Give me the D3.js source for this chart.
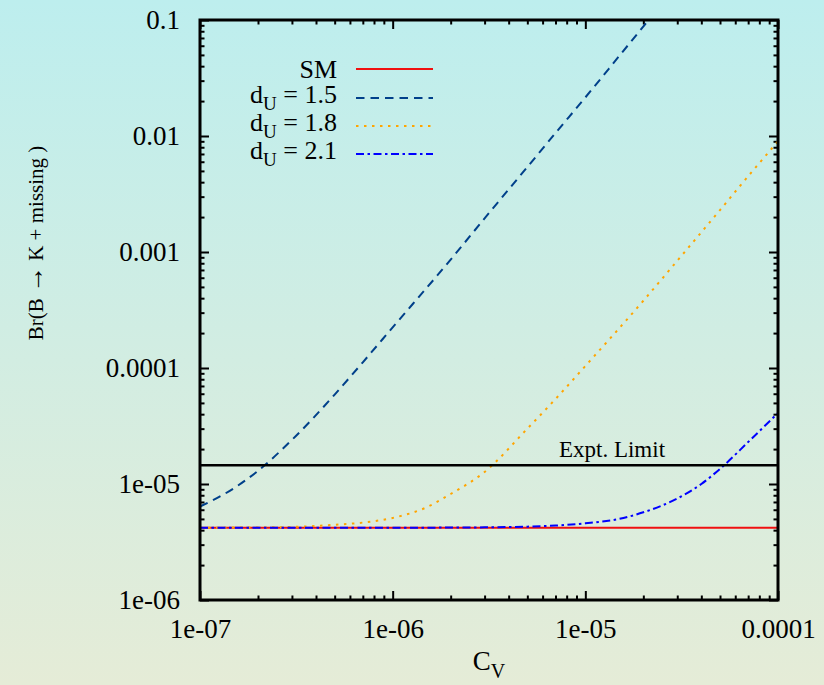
<!DOCTYPE html>
<html>
<head>
<meta charset="utf-8">
<script src="https://cdn.jsdelivr.net/npm/d3@7"></script>
<style>
  html, body { margin: 0; padding: 0; }
  svg { display: block; }
  svg text { font-family: "Liberation Serif", "Times New Roman", Times, "DejaVu Serif", serif !important; fill: #000; }
</style>
</head>
<body>
<svg id="chart" width="824" height="685"></svg>
<script>
// ---------- data ----------
const xDomain = [1e-7, 1e-4];
const yDomain = [1e-6, 0.1];

const xTickValues = [1e-7, 1e-6, 1e-5, 1e-4];
const xTickLabels = ["1e-07", "1e-06", "1e-05", "0.0001"];
const yTickValues = [1e-6, 1e-5, 1e-4, 1e-3, 1e-2, 1e-1];
const yTickLabels = ["1e-06", "1e-05", "0.0001", "0.001", "0.01", "0.1"];

// SM
const cvSM = [1e-7, 1e-4];
const brSM = [4.2e-6, 4.2e-6];

// d_U = 1.5
const cv15 = [1e-7, 1.5e-7, 2e-7, 3e-7, 5e-7, 7e-7, 1e-6, 2e-6, 3e-6, 5e-6, 7e-6, 1e-5, 1.5e-5, 2.3e-5];
const br15 = [6.4e-6, 9.2e-6, 1.30e-5, 2.4e-5, 5.9e-5, 1.12e-4, 2.24e-4, 8.6e-4, 1.95e-3, 5.4e-3, 1.06e-2, 2.15e-2, 4.9e-2, 0.117];

// d_U = 1.8
const cv18 = [1e-7, 2e-7, 3e-7, 5e-7, 7e-7, 1e-6, 1.5e-6, 2e-6, 3e-6, 5e-6, 7e-6, 1e-5, 2e-5, 3e-5, 5e-5, 7e-5, 1e-4];
const br18 = [4.2e-6, 4.22e-6, 4.26e-6, 4.45e-6, 4.65e-6, 5.1e-6, 6.3e-6, 8.2e-6, 1.27e-5, 3.0e-5, 5.4e-5, 1.04e-4, 3.8e-4, 8.4e-4, 2.3e-3, 4.5e-3, 9.0e-3];

// d_U = 2.1
const cv21 = [1e-7, 1e-6, 3e-6, 5e-6, 7e-6, 1e-5, 1.5e-5, 2e-5, 3e-5, 4e-5, 5e-5, 7e-5, 1e-4];
const br21 = [4.2e-6, 4.2e-6, 4.23e-6, 4.29e-6, 4.38e-6, 4.58e-6, 5.0e-6, 5.7e-6, 7.5e-6, 1.0e-5, 1.35e-5, 2.3e-5, 4.1e-5];

// Experimental limit
const exptLimit = 1.45e-5;
const exptLabel = "Expt. Limit";

// ---------- layout ----------
const W = 824, H = 685;
const m = { left: 200, top: 20, right: 778, bottom: 600 };
const FONT = '"Liberation Serif", "Times New Roman", Times, "DejaVu Serif", serif';

const svg = d3.select("#chart");

// background gradient
const defs = svg.append("defs");
const grad = defs.append("linearGradient").attr("id", "bg")
  .attr("x1", 0).attr("y1", 0).attr("x2", 0).attr("y2", 1);
grad.append("stop").attr("offset", "0%").attr("stop-color", "#bdeeee");
grad.append("stop").attr("offset", "100%").attr("stop-color", "#e5ecd7");
svg.append("rect").attr("width", W).attr("height", H).attr("fill", "url(#bg)");

defs.append("clipPath").attr("id", "plotclip").append("rect")
  .attr("x", m.left).attr("y", m.top)
  .attr("width", m.right - m.left).attr("height", m.bottom - m.top);

const x = d3.scaleLog().domain(xDomain).range([m.left, m.right]);
const y = d3.scaleLog().domain(yDomain).range([m.bottom, m.top]);

const xMinor = x.ticks().filter(v => !xTickValues.some(t => Math.abs(t - v) / t < 1e-9));
const yMinor = y.ticks().filter(v => !yTickValues.some(t => Math.abs(t - v) / t < 1e-9));

function styleAxis(g) {
  g.attr("font-family", FONT).attr("font-size", 27);
  g.select(".domain").remove();
  g.selectAll(".tick line").attr("stroke", "#000").attr("stroke-width", 2);
  g.selectAll(".tick text").style("font-family", FONT).attr("font-size", 27).attr("fill", "#000");
}

function addAxis(axisFn, pos, vals, fmt, size, pad) {
  const a = axisFn.tickValues(vals).tickSizeInner(size).tickSizeOuter(0);
  if (fmt) a.tickFormat(fmt); else a.tickFormat("");
  if (pad !== undefined) a.tickPadding(pad);
  svg.append("g").attr("transform", pos).call(a).call(styleAxis);
}

// bottom
addAxis(d3.axisBottom(x), `translate(0,${m.bottom})`, xTickValues, (d, i) => xTickLabels[i], -9, 19);
addAxis(d3.axisBottom(x), `translate(0,${m.bottom})`, xMinor, null, -4.5);
// top
addAxis(d3.axisTop(x), `translate(0,${m.top})`, xTickValues, null, -9);
addAxis(d3.axisTop(x), `translate(0,${m.top})`, xMinor, null, -4.5);
// left
addAxis(d3.axisLeft(y), `translate(${m.left},0)`, yTickValues, (d, i) => yTickLabels[i], -9, 20);
addAxis(d3.axisLeft(y), `translate(${m.left},0)`, yMinor, null, -4.5);
// right
addAxis(d3.axisRight(y), `translate(${m.right},0)`, yTickValues, null, -9);
addAxis(d3.axisRight(y), `translate(${m.right},0)`, yMinor, null, -4.5);

// ---------- curves ----------
const plot = svg.append("g").attr("clip-path", "url(#plotclip)");
const line = d3.line().x(d => x(d[0])).y(d => y(d[1])).curve(d3.curveMonotoneX);

const series = [
  { name: "SM",  cv: cvSM, br: brSM, color: "#f01010", dash: null },
  { name: "1.5", cv: cv15, br: br15, color: "#00408a", dash: "8.5,6" },
  { name: "1.8", cv: cv18, br: br18, color: "#ffa500", dash: "2.5,5.5" },
  { name: "2.1", cv: cv21, br: br21, color: "#0000ff", dash: "8,3.5,2.5,3.5" }
];

series.forEach(s => {
  plot.append("path")
    .datum(s.cv.map((c, i) => [c, s.br[i]]))
    .attr("d", line)
    .attr("fill", "none")
    .attr("stroke", s.color)
    .attr("stroke-width", 2)
    .attr("stroke-dasharray", s.dash);
});

// experimental limit
plot.append("line")
  .attr("x1", x(xDomain[0])).attr("x2", x(xDomain[1]))
  .attr("y1", y(exptLimit)).attr("y2", y(exptLimit))
  .attr("stroke", "#000").attr("stroke-width", 2.5);
svg.append("text")
  .attr("x", 612).attr("y", y(exptLimit) - 8)
  .attr("text-anchor", "middle")
  .attr("font-size", 23)
  .text(exptLabel);

// frame
svg.append("rect")
  .attr("x", m.left).attr("y", m.top)
  .attr("width", m.right - m.left).attr("height", m.bottom - m.top)
  .attr("fill", "none").attr("stroke", "#000").attr("stroke-width", 3);

// ---------- legend ----------
const legendRows = [69, 98, 126, 154];
series.forEach((s, i) => {
  const ly = legendRows[i];
  const t = svg.append("text").attr("x", 337).attr("text-anchor", "end").attr("font-size", 26);
  if (s.name === "SM") {
    t.attr("y", ly + 9).text("SM");
  } else {
    t.attr("y", ly + 5);
    t.append("tspan").text("d");
    t.append("tspan").attr("font-size", 19).attr("dy", 7).text("U");
    t.append("tspan").attr("dy", -7).text(" = " + s.name);
  }
  svg.append("line")
    .attr("x1", 356).attr("x2", 433).attr("y1", ly).attr("y2", ly)
    .attr("stroke", s.color).attr("stroke-width", 2)
    .attr("stroke-dasharray", s.dash);
});

// ---------- axis titles ----------
const xt = svg.append("text").attr("x", (m.left + m.right) / 2).attr("y", 670)
  .attr("text-anchor", "middle").attr("font-size", 27);
xt.append("tspan").text("C");
xt.append("tspan").attr("font-size", 20).attr("dy", 8).text("V");

const yt = svg.append("text")
  .attr("transform", "translate(43,243) rotate(-90)")
  .attr("text-anchor", "middle")
  .attr("font-size", 21);
yt.append("tspan").text("Br(B ");
yt.append("tspan").attr("font-size", 27).text("\u2192");
yt.append("tspan").text(" K + missing )");
</script>
</body>
</html>
